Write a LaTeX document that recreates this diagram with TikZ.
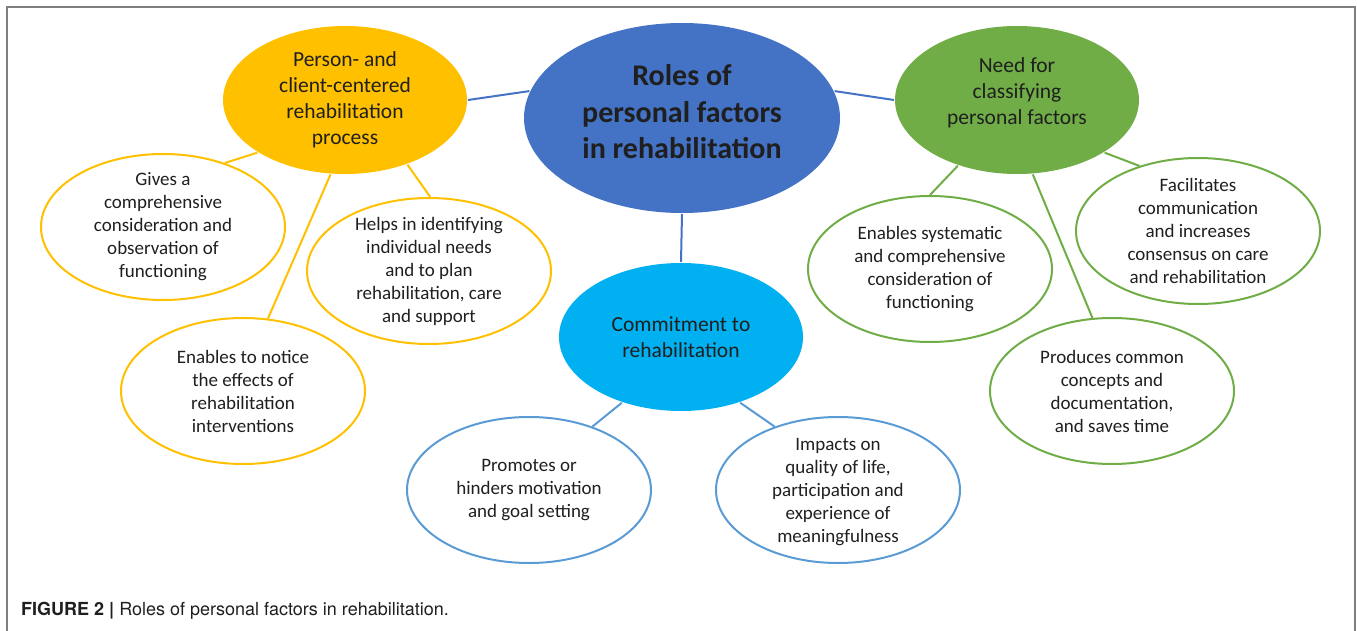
\documentclass[tikz,border=0pt]{standalone}
\usepackage{fontspec}
\setmainfont{Carlito}
\newfontfamily\capfont{TeX Gyre Heros}
\usetikzlibrary{shapes.geometric}
\definecolor{cOrange}{HTML}{FFC000}
\definecolor{cGreen}{HTML}{70AD47}
\definecolor{cBlue}{HTML}{4472C4}
\definecolor{cCyan}{HTML}{00B0F0}
\definecolor{cLight}{HTML}{5B9BD5}
\definecolor{cFrame}{HTML}{7F7F7F}
\definecolor{cText}{HTML}{1F1F1F}
\begin{document}
\begin{tikzpicture}[x=1pt,y=-1pt,
 bubble/.style={ellipse, inner sep=0pt, minimum width=244pt, minimum height=146pt, line width=2pt},
 bigbubble/.style={bubble, minimum height=148pt},
 txt/.style={align=center, text=cText, font=\fontsize{19}{23}\selectfont, inner sep=0pt},
 midtxt/.style={align=center, text=cText, font=\fontsize{21.5}{26}\selectfont, inner sep=0pt},
 link/.style={line width=2pt},
]
\useasboundingbox (0,0) rectangle (1357,631);
\draw[cFrame, line width=2pt] (7,640) -- (7,7) -- (1355,7) -- (1355,640);

% main bubbles
\node[bigbubble, fill=cBlue, minimum width=316pt, minimum height=190pt] (c) at (682,118) {};
\node[bigbubble, fill=cOrange] (o) at (345,100) {};
\node[bigbubble, fill=cGreen] (g) at (1017,100) {};
\node[bigbubble, fill=cCyan] (m) at (681,337) {};

% outlined bubbles
\node[bubble, draw=cOrange] (gv) at (163,227) {};
\node[bubble, draw=cOrange] (hp) at (429,271) {};
\node[bubble, draw=cOrange] (nt) at (243,391) {};
\node[bubble, draw=cGreen] (es) at (930,269) {};
\node[bubble, draw=cGreen] (fc) at (1198,231) {};
\node[bubble, draw=cGreen] (pr) at (1112,391) {};
\node[bubble, draw=cLight] (pm) at (529,490) {};
\node[bubble, draw=cLight] (im) at (838,490) {};

% connectors
\draw[link, cBlue] (o.0) -- (c.170);
\draw[link, cBlue] (c.10) -- (g.180);
\draw[link, cBlue] (c.270) -- (m.90);
\draw[link, cOrange] (o.211) -- (gv.46);
\draw[link, cOrange] (o.259) -- (nt.71);
\draw[link, cOrange] (o.314) -- (hp.89);
\draw[link, cGreen] (g.228) -- (es.90);
\draw[link, cGreen] (g.282) -- (pr.105);
\draw[link, cGreen] (g.329) -- (fc.132);
\draw[link, cLight] (m.228) -- (pm.45);
\draw[link, cLight] (m.312) -- (im.135);

% texts
\node[align=center, text=cText, inner sep=0pt, font=\bfseries\fontsize{30}{36.5}\selectfont] (ct) at (682,112) {Roles of\\personal factors\\in rehabilitation};
\node[midtxt] (ot) at (345,100) {Person- and\\client-centered\\rehabilitation\\process};
\node[midtxt] (gt) at (1017,93) {Need for\\classifying\\personal factors};
\node[midtxt] (mt) at (681,337) {Commitment to\\rehabilitation};

\node[txt] (gvt) at (gv) {Gives a\\comprehensive\\consideration and\\observation of\\functioning};
\node[txt] (hpt) at (hp) {Helps in identifying\\individual needs\\and to plan\\rehabilitation, care\\and support};
\node[txt] (ntt) at (nt) {Enables to notice\\the effects of\\rehabilitation\\interventions};
\node[txt] (est) at (es) {Enables systematic\\and comprehensive\\consideration of\\functioning};
\node[txt] (fct) at (fc) {Facilitates\\communication\\and increases\\consensus on care\\and rehabilitation};
\node[txt] (prt) at (pr) {Produces common\\concepts and\\documentation,\\and saves time};
\node[txt] (pmt) at (pm) {Promotes or\\hinders motivation\\and goal setting};
\node[txt] (imt) at (838,492) {Impacts on\\quality of life,\\participation and\\experience of\\meaningfulness};

% caption
\node[anchor=west, inner sep=0pt, text=cText, font=\capfont\fontsize{18}{21}\selectfont] (cap) at (21,611) {\textbf{FIGURE 2 |} Roles of personal factors in rehabilitation.};
\end{tikzpicture}
\end{document}
